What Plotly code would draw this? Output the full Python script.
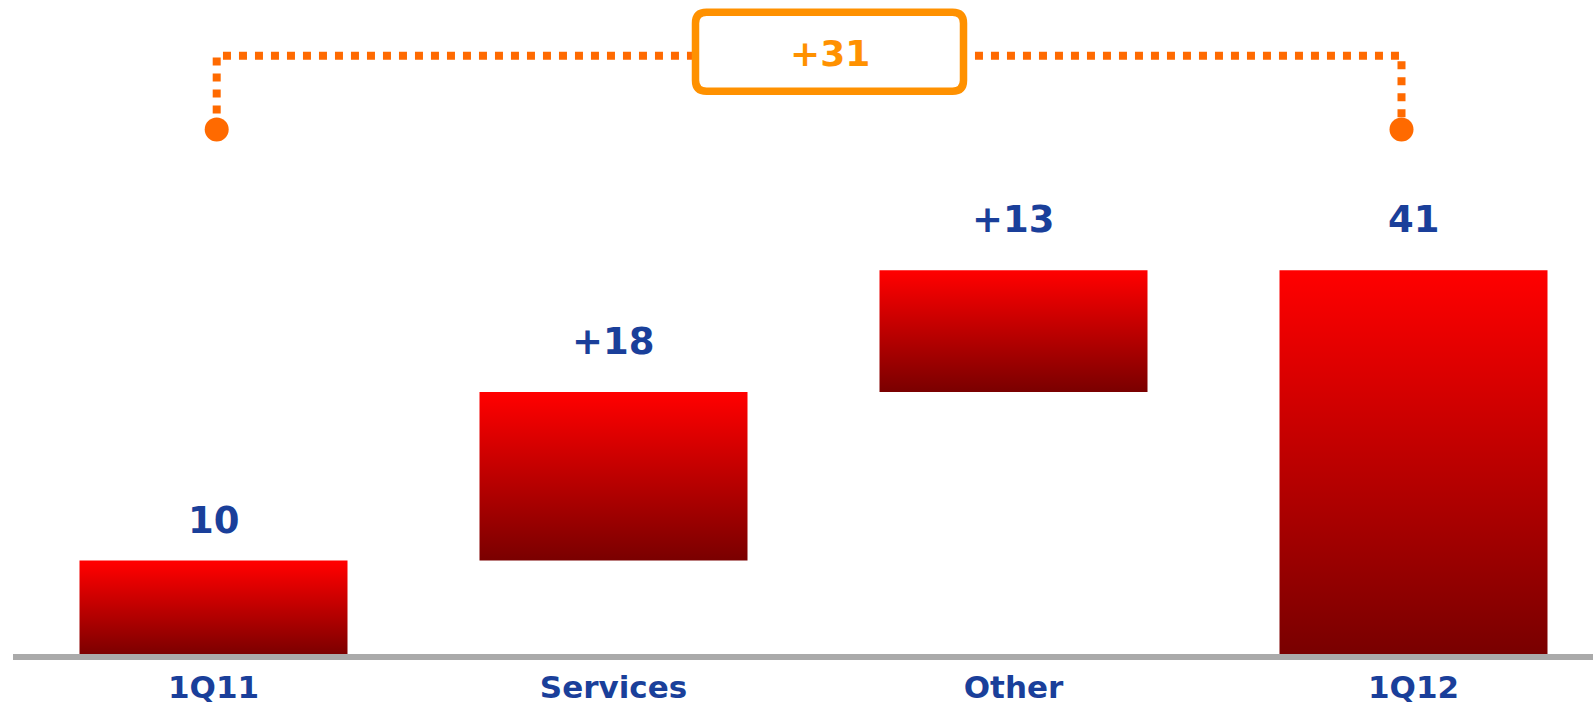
import plotly.graph_objects as go

# Waterfall: 1Q11 -> 1Q12 bridge
categories = ["1Q11", "Services", "Other", "1Q12"]
steps = [10, 18, 13]          # start value followed by increments
total = 41
kinds = ["absolute", "relative", "relative", "total"]

BLUE = "#1a3f9a"
ORANGE_LINE = "#ff6a00"
ORANGE_BOX = "#ff9100"
FONT = "DejaVu Sans"

# bar bases / tops derived from the waterfall steps
bases, tops = [], []
running = 0
for k, cat in enumerate(categories):
    if kinds[k] == "absolute":
        bases.append(0)
        running = steps[k]
        tops.append(running)
    elif kinds[k] == "relative":
        bases.append(running)
        running += steps[k]
        tops.append(running)
    else:
        bases.append(0)
        tops.append(total)

labels = []
for k in range(len(categories)):
    if kinds[k] == "relative":
        labels.append(f"+{steps[k]}")
    elif kinds[k] == "absolute":
        labels.append(f"{steps[k]}")
    else:
        labels.append(f"{total}")

# vertical offset (px) of each value label above its bar
label_offsets = [40, 51, 51, 51]

half_w = 0.335

fig = go.Figure()

for i, (b, t) in enumerate(zip(bases, tops)):
    fig.add_trace(go.Scatter(
        x=[i - half_w, i + half_w, i + half_w, i - half_w, i - half_w],
        y=[b, b, t, t, b],
        mode="lines",
        fill="toself",
        fillgradient=dict(
            type="vertical",
            colorscale=[[0, "#780000"], [1, "#ff0000"]],
            start=b, stop=t,
        ),
        line=dict(width=0, color="rgba(0,0,0,0)"),
        hoverinfo="skip",
        showlegend=False,
    ))

# value labels above each bar
for i, (t, lab, off) in enumerate(zip(tops, labels, label_offsets)):
    fig.add_annotation(
        x=i, y=t, text=f"<b>{lab}</b>", showarrow=False,
        xanchor="center", yanchor="middle", yshift=off,
        font=dict(family=FONT, size=37, color=BLUE),
    )

# bracket showing the overall change
br_left, br_right = 0.008, 2.97
br_top, br_dot = 63.94, 56.06
fig.add_trace(go.Scatter(
    x=[br_left, br_left, br_right, br_right],
    y=[br_dot, br_top, br_top, br_dot],
    mode="lines",
    line=dict(color=ORANGE_LINE, width=8, dash="dot"),
    hoverinfo="skip", showlegend=False,
))
fig.add_trace(go.Scatter(
    x=[br_left, br_right], y=[br_dot, br_dot],
    mode="markers",
    marker=dict(color=ORANGE_LINE, size=24, line=dict(width=0)),
    hoverinfo="skip", showlegend=False,
))

# rounded box with the net change
box_x, box_y = 1.54, 64.36
W, H, R = 134, 39.5, 11
path = (f"M {-W+R},{-H} L {W-R},{-H} Q {W},{-H} {W},{-H+R} "
        f"L {W},{H-R} Q {W},{H} {W-R},{H} L {-W+R},{H} Q {-W},{H} {-W},{H-R} "
        f"L {-W},{-H+R} Q {-W},{-H} {-W+R},{-H} Z")
fig.add_shape(
    type="path", path=path,
    xref="x", yref="y", xsizemode="pixel", ysizemode="pixel",
    xanchor=box_x, yanchor=box_y,
    fillcolor="white", line=dict(color=ORANGE_BOX, width=7.5), layer="above",
)
fig.add_annotation(
    x=box_x, y=box_y, text=f"<b>+{total - steps[0]}</b>", showarrow=False,
    xanchor="center", yanchor="middle", yshift=-2,
    font=dict(family=FONT, size=36, color=ORANGE_BOX),
)

px_per_unit = 9.4
plot_bottom = 657
fig.update_layout(
    width=1593, height=705,
    margin=dict(l=13, r=0, t=0, b=705 - plot_bottom),
    paper_bgcolor="white", plot_bgcolor="white",
    showlegend=False,
    xaxis=dict(
        range=[-0.50125, 3.44875],
        tickmode="array", tickvals=list(range(len(categories))),
        ticktext=categories,
        tickfont=dict(family=FONT, size=31, color=BLUE, weight="bold"),
        showgrid=False, zeroline=False,
        showline=True, linecolor="#aaaaaa", linewidth=6,
        ticks="", ticklabelstandoff=1,
        fixedrange=True,
    ),
    yaxis=dict(
        range=[0, plot_bottom / px_per_unit],
        visible=False, showgrid=False, zeroline=False, fixedrange=True,
    ),
)

fig.write_html("out.html", config={"displayModeBar": False})
